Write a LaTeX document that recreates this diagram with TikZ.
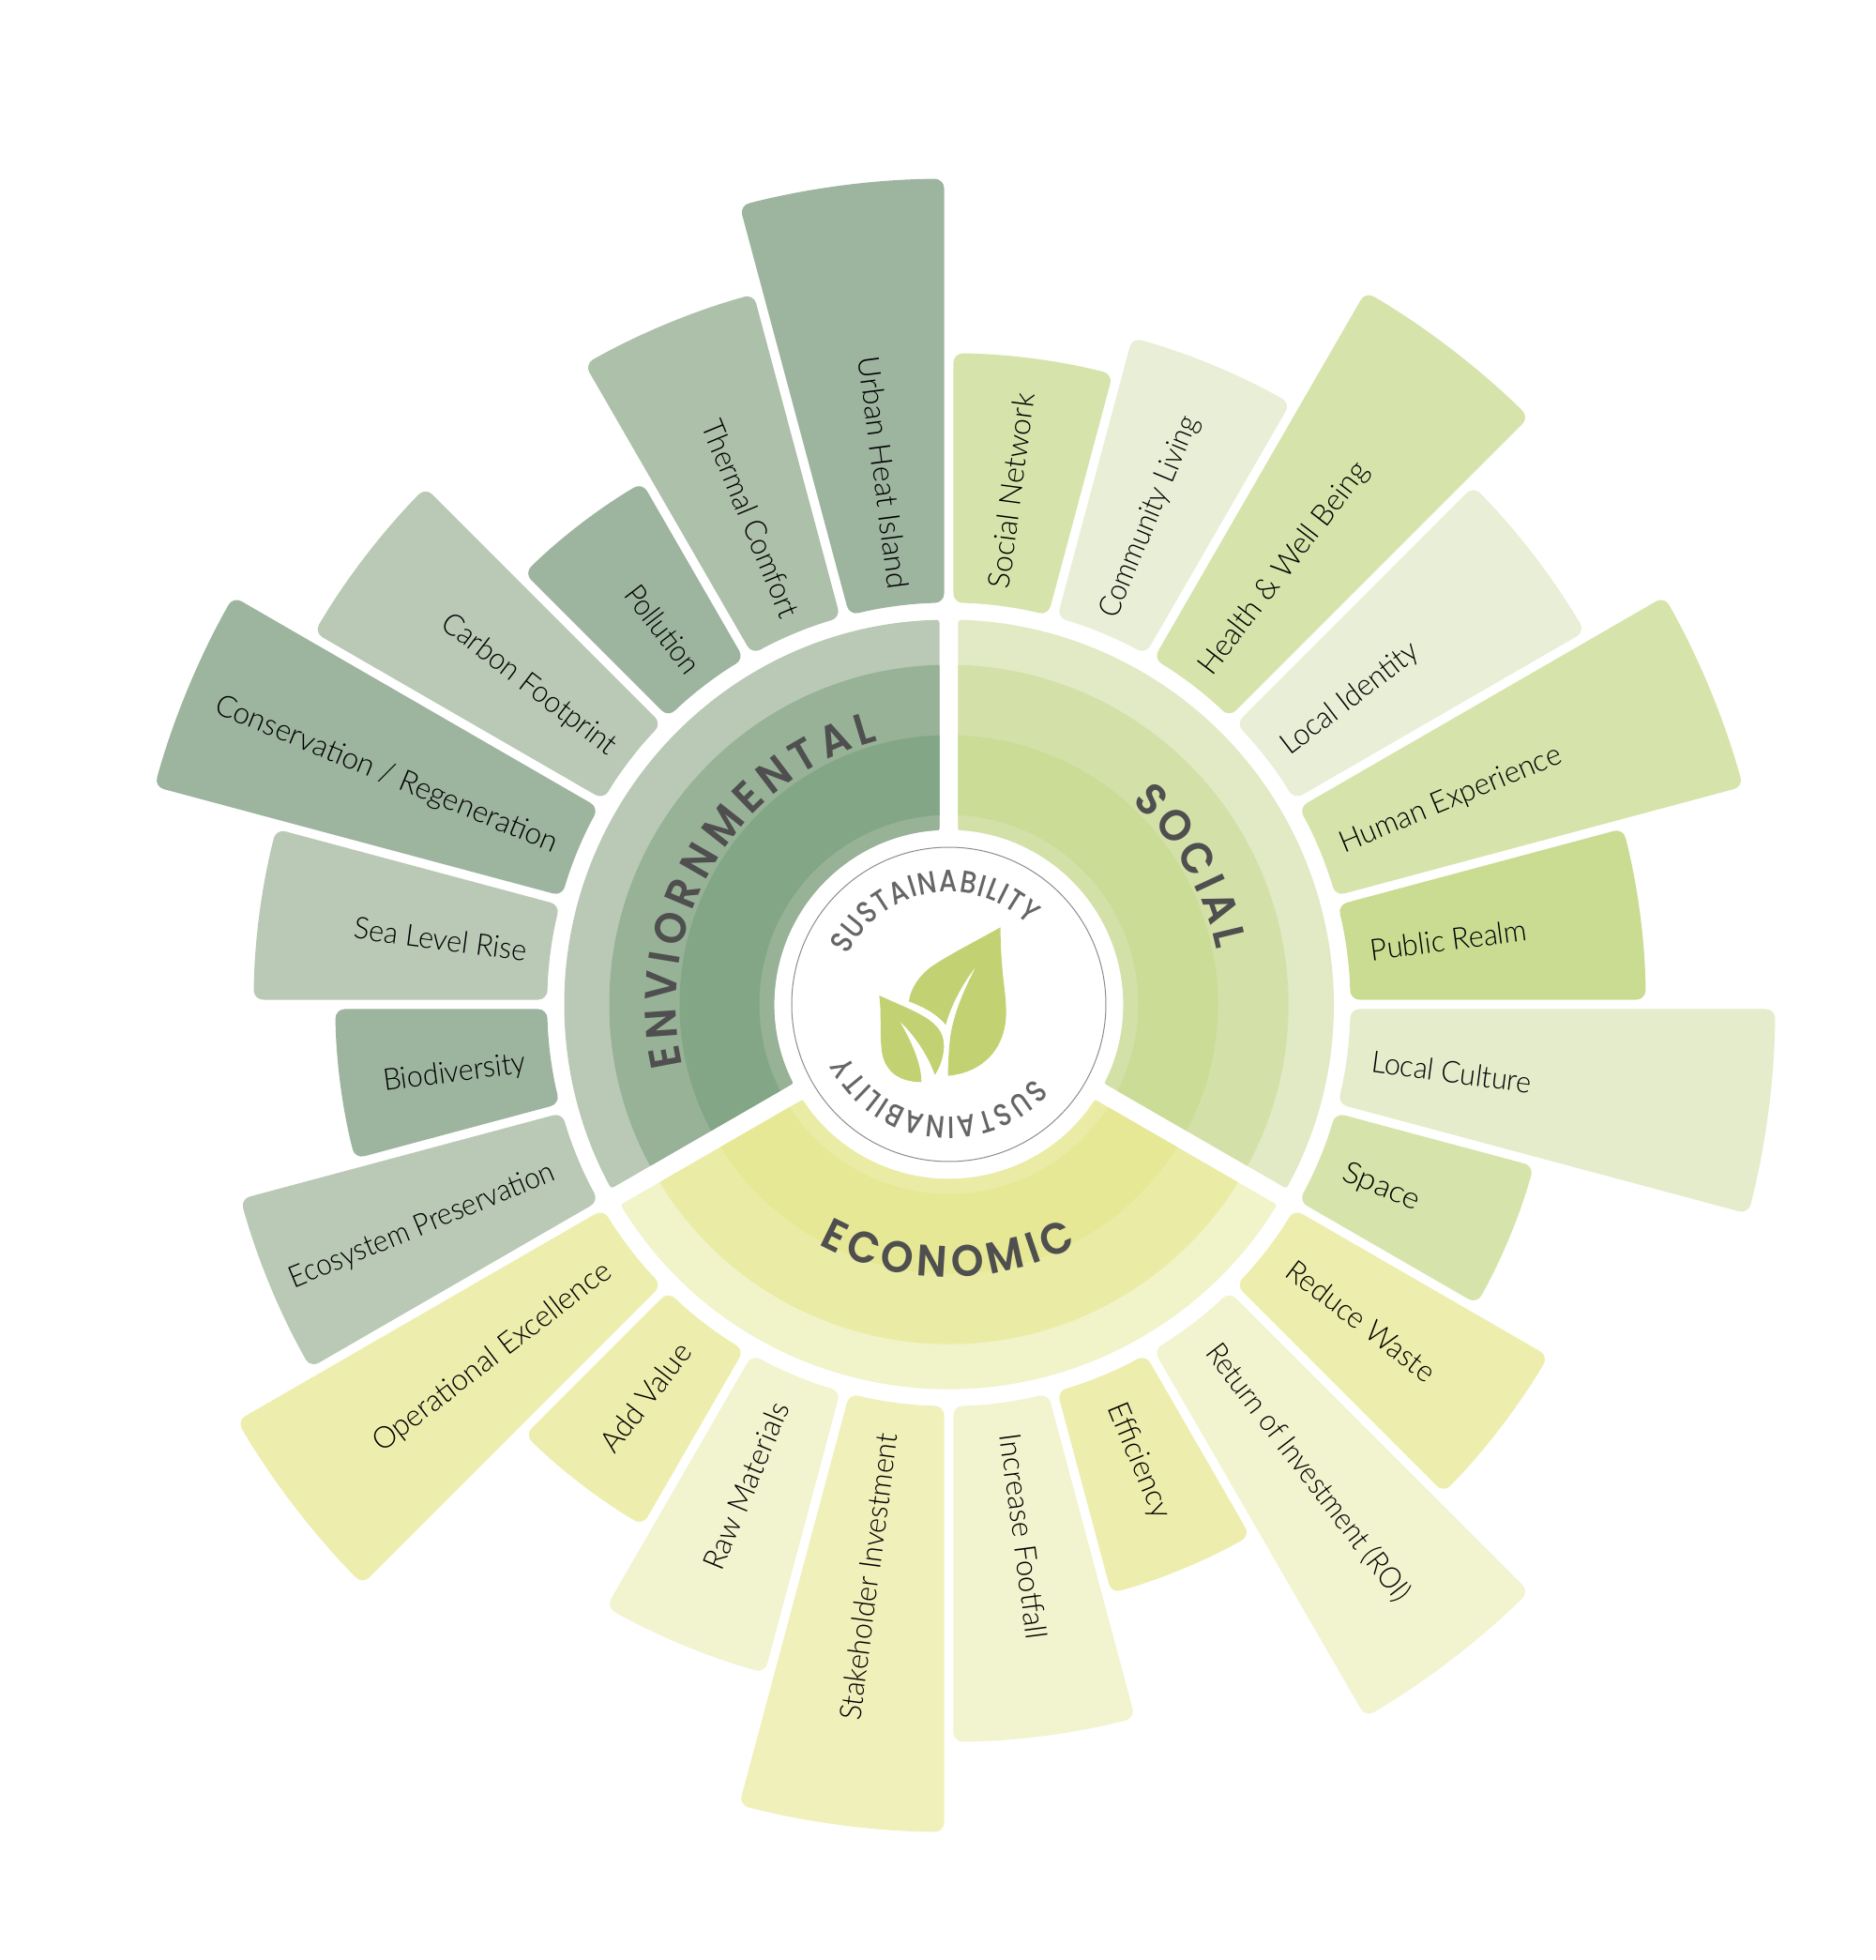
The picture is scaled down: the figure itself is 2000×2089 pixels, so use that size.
\documentclass[tikz,border=0pt]{standalone}
\usepackage{fontspec}
\usepackage{graphicx}
\usetikzlibrary{decorations.text,calc}
\setmainfont{Lato}
\newfontfamily\labfamily[UprightFont=* Light,FakeStretch=0.95]{Lato}
\newfontfamily\headfamily[UprightFont=* SemiBold,FakeStretch=0.94]{Poppins}
\newfontfamily\susfamily[UprightFont=* Medium,FakeStretch=0.84]{Poppins}
% petal colours
\definecolor{eA}{HTML}{9DB49F}\definecolor{eB}{HTML}{ADC0AA}\definecolor{eC}{HTML}{B9C9B5}
\definecolor{sA}{HTML}{D6E4AB}\definecolor{sB}{HTML}{E9EED6}\definecolor{sC}{HTML}{C9DC92}\definecolor{sD}{HTML}{E5ECCB}
\definecolor{cA}{HTML}{EDEEAD}\definecolor{cB}{HTML}{F2F3CF}\definecolor{cC}{HTML}{F0F0BB}
% ring colours
\definecolor{rEo}{HTML}{B9C9B5}\definecolor{rEm}{HTML}{97B296}\definecolor{rEi}{HTML}{83A686}
\definecolor{rSo}{HTML}{E1EAC4}\definecolor{rSm}{HTML}{D3E1A9}\definecolor{rSi}{HTML}{CBDC97}
\definecolor{rCo}{HTML}{F1F3C9}\definecolor{rCm}{HTML}{EAECA5}\definecolor{rCi}{HTML}{E6E896}
\definecolor{leaf}{HTML}{C2D272}\definecolor{headc}{HTML}{4F4F4F}\definecolor{susc}{HTML}{666666}
\tikzset{
  petaltext/.style={font=\labfamily\fontsize{16}{18}\selectfont,text=black,inner sep=0pt},
  headarc/.style={decorate,decoration={text along path,text align={fit to path},text={|\headfamily\fontsize{23.5}{25}\selectfont\color{headc}|#1}}},
  susarc/.style={decorate,decoration={text along path,text align={fit to path},text={|\susfamily\fontsize{16.5}{19}\selectfont\color{susc}|#1}}},
}
% \sectorshape{start}{end}{inner r}{outer r}{half gap}{corner}{colour}
\newcommand\sectorshape[7]{%
  \pgfmathsetmacro\di{asin(#5/#3)}%
  \pgfmathsetmacro\dO{asin(#5/#4)}%
  \pgfmathsetmacro\aA{#1-\di}\pgfmathsetmacro\aB{#2+\di}%
  \pgfmathsetmacro\aC{#2+\dO}\pgfmathsetmacro\aD{#1-\dO}%
  \fill[#7,rounded corners=#6] (\aA:#3) arc[start angle=\aA,end angle=\aB,radius=#3]
    -- (\aC:#4) arc[start angle=\aC,end angle=\aD,radius=#4] -- cycle;%
}
\begin{document}
\begin{tikzpicture}[x=0.5pt,y=0.5pt]
\useasboundingbox (-1011.5,-1018.5) rectangle (988.5,1070.5);
\fill[white] (-1011.5,-1018.5) rectangle (988.5,1070.5);
% rings
\sectorshape{90}{-30}{186}{410}{10}{1.5pt}{rSo}
\sectorshape{90}{-30}{186}{362}{10}{0.5pt}{rSm}
\sectorshape{90}{-30}{202}{287}{10}{0pt}{rSi}
\sectorshape{-30}{-150}{186}{410}{10}{1.5pt}{rCo}
\sectorshape{-30}{-150}{186}{362}{10}{0.5pt}{rCm}
\sectorshape{-30}{-150}{202}{287}{10}{0pt}{rCi}
\sectorshape{210}{90}{186}{410}{10}{1.5pt}{rEo}
\sectorshape{210}{90}{186}{362}{10}{0.5pt}{rEm}
\sectorshape{210}{90}{202}{287}{10}{0pt}{rEi}
% petals: start angle / outer radius / colour / text width factor / text
\foreach \a/\R/\c/\f/\t [count=\i] in {
 90/694/sA/1.06/{Social Network},
 75/737/sB/0.97/{Community Living},
 60/880/sA/1.04/{Health \& Well Being},
 45/786/sB/1.01/{Local Identity},
 30/878/sA/1.02/{Human Experience},
 15/743/sC/1.01/{Public Realm},
 0/881/sD/1.0/{Local Culture},
 -15/647/sA/1.12/{Space},
 -30/741/cA/1.01/{Reduce Waste},
 -45/880/cB/0.96/{Return of Investment (ROI)},
 -60/651/cA/1.04/{Efficiency},
 -75/786/cB/1.03/{Increase Footfall},
 -90/882/cC/1.0/{Stakeholder Investment},
 -105/739/cB/1.03/{Raw Materials},
 -120/644/cA/1.03/{Add Value},
 -135/879/cA/1.04/{Operational Excellence},
 -150/783/eC/0.975/{Ecosystem Preservation},
 -165/654/eA/1.0/{Biodiversity},
 -180/741/eC/1.01/{Sea Level Rise},
 -195/878/eA/1.04/{Conservation / Regeneration},
 -210/784/eC/1.0/{Carbon Footprint},
 -225/645/eA/0.95/{Pollution},
 -240/785/eB/1.0/{Thermal Comfort},
 -255/880/eA/1.057/{Urban Heat Island}}{
  \pgfmathsetmacro\b{\a-15}
  \pgfmathsetmacro\m{\a-7.5}
  \sectorshape{\a}{\b}{428}{\R}{5}{5pt}{\c}
  \pgfmathparse{\m<-90?1:0}
  \ifnum\pgfmathresult=1
    \pgfmathsetmacro\rr{\m+180}
    \node[petaltext,anchor=mid east,rotate=\rr] (lab\i) at ($(\m:454)+(0,-8)$) {\scalebox{\f}[1]{\t}};
  \else
    \node[petaltext,anchor=mid west,rotate=\m] (lab\i) at ($(\m:454)+(0,-8)$) {\scalebox{\f}[1]{\t}};
  \fi
}
% centre ring
\draw[color=black!45,line width=0.5pt] (0,0) circle[radius=167.5];
% headings
\path[headarc={SOCIAL}] (48:291) arc[start angle=48,end angle=11.5,radius=291];
\path[headarc={ECONOMIC}] (-118.5:291) arc[start angle=-118.5,end angle=-62,radius=291];
\path[headarc={ENVIORNMENTAL}] (193:291) arc[start angle=193,end angle=105,radius=291];
\path[susarc={SUSTAINABILITY}] (154:120) arc[start angle=154,end angle=45,radius=120];
\path[susarc={SUSTAINABILITY}] (-41:120) arc[start angle=-41,end angle=-153,radius=120];
% leaves
\begin{scope}[shift={(-231.5,230.5)},xscale=0.3333,yscale=-0.3333]
\fill[leaf] (860,445) .. controls (780,490) and (700,530) .. (640,570) .. controls (600,600) and (572,640) .. (567,682) .. controls (600,695) and (650,715) .. (685,757) .. controls (700,700) and (735,630) .. (782,570) .. controls (740,650) and (712,720) .. (700,790) .. controls (695,830) and (692,880) .. (692,920) .. controls (780,912) and (860,860) .. (876,750) .. controls (882,700) and (872,640) .. (868,600) .. controls (862,540) and (860,490) .. (860,445) -- cycle;
\fill[leaf] (472,663) .. controls (530,690) and (590,712) .. (630,740) .. controls (665,765) and (680,790) .. (679,830) .. controls (677,865) and (665,895) .. (650,917) .. controls (630,860) and (590,795) .. (537,745) .. controls (575,810) and (607,880) .. (607,940) .. controls (540,940) and (490,910) .. (480,840) .. controls (473,780) and (480,720) .. (472,663) -- cycle;
\end{scope}
\end{tikzpicture}
\end{document}
